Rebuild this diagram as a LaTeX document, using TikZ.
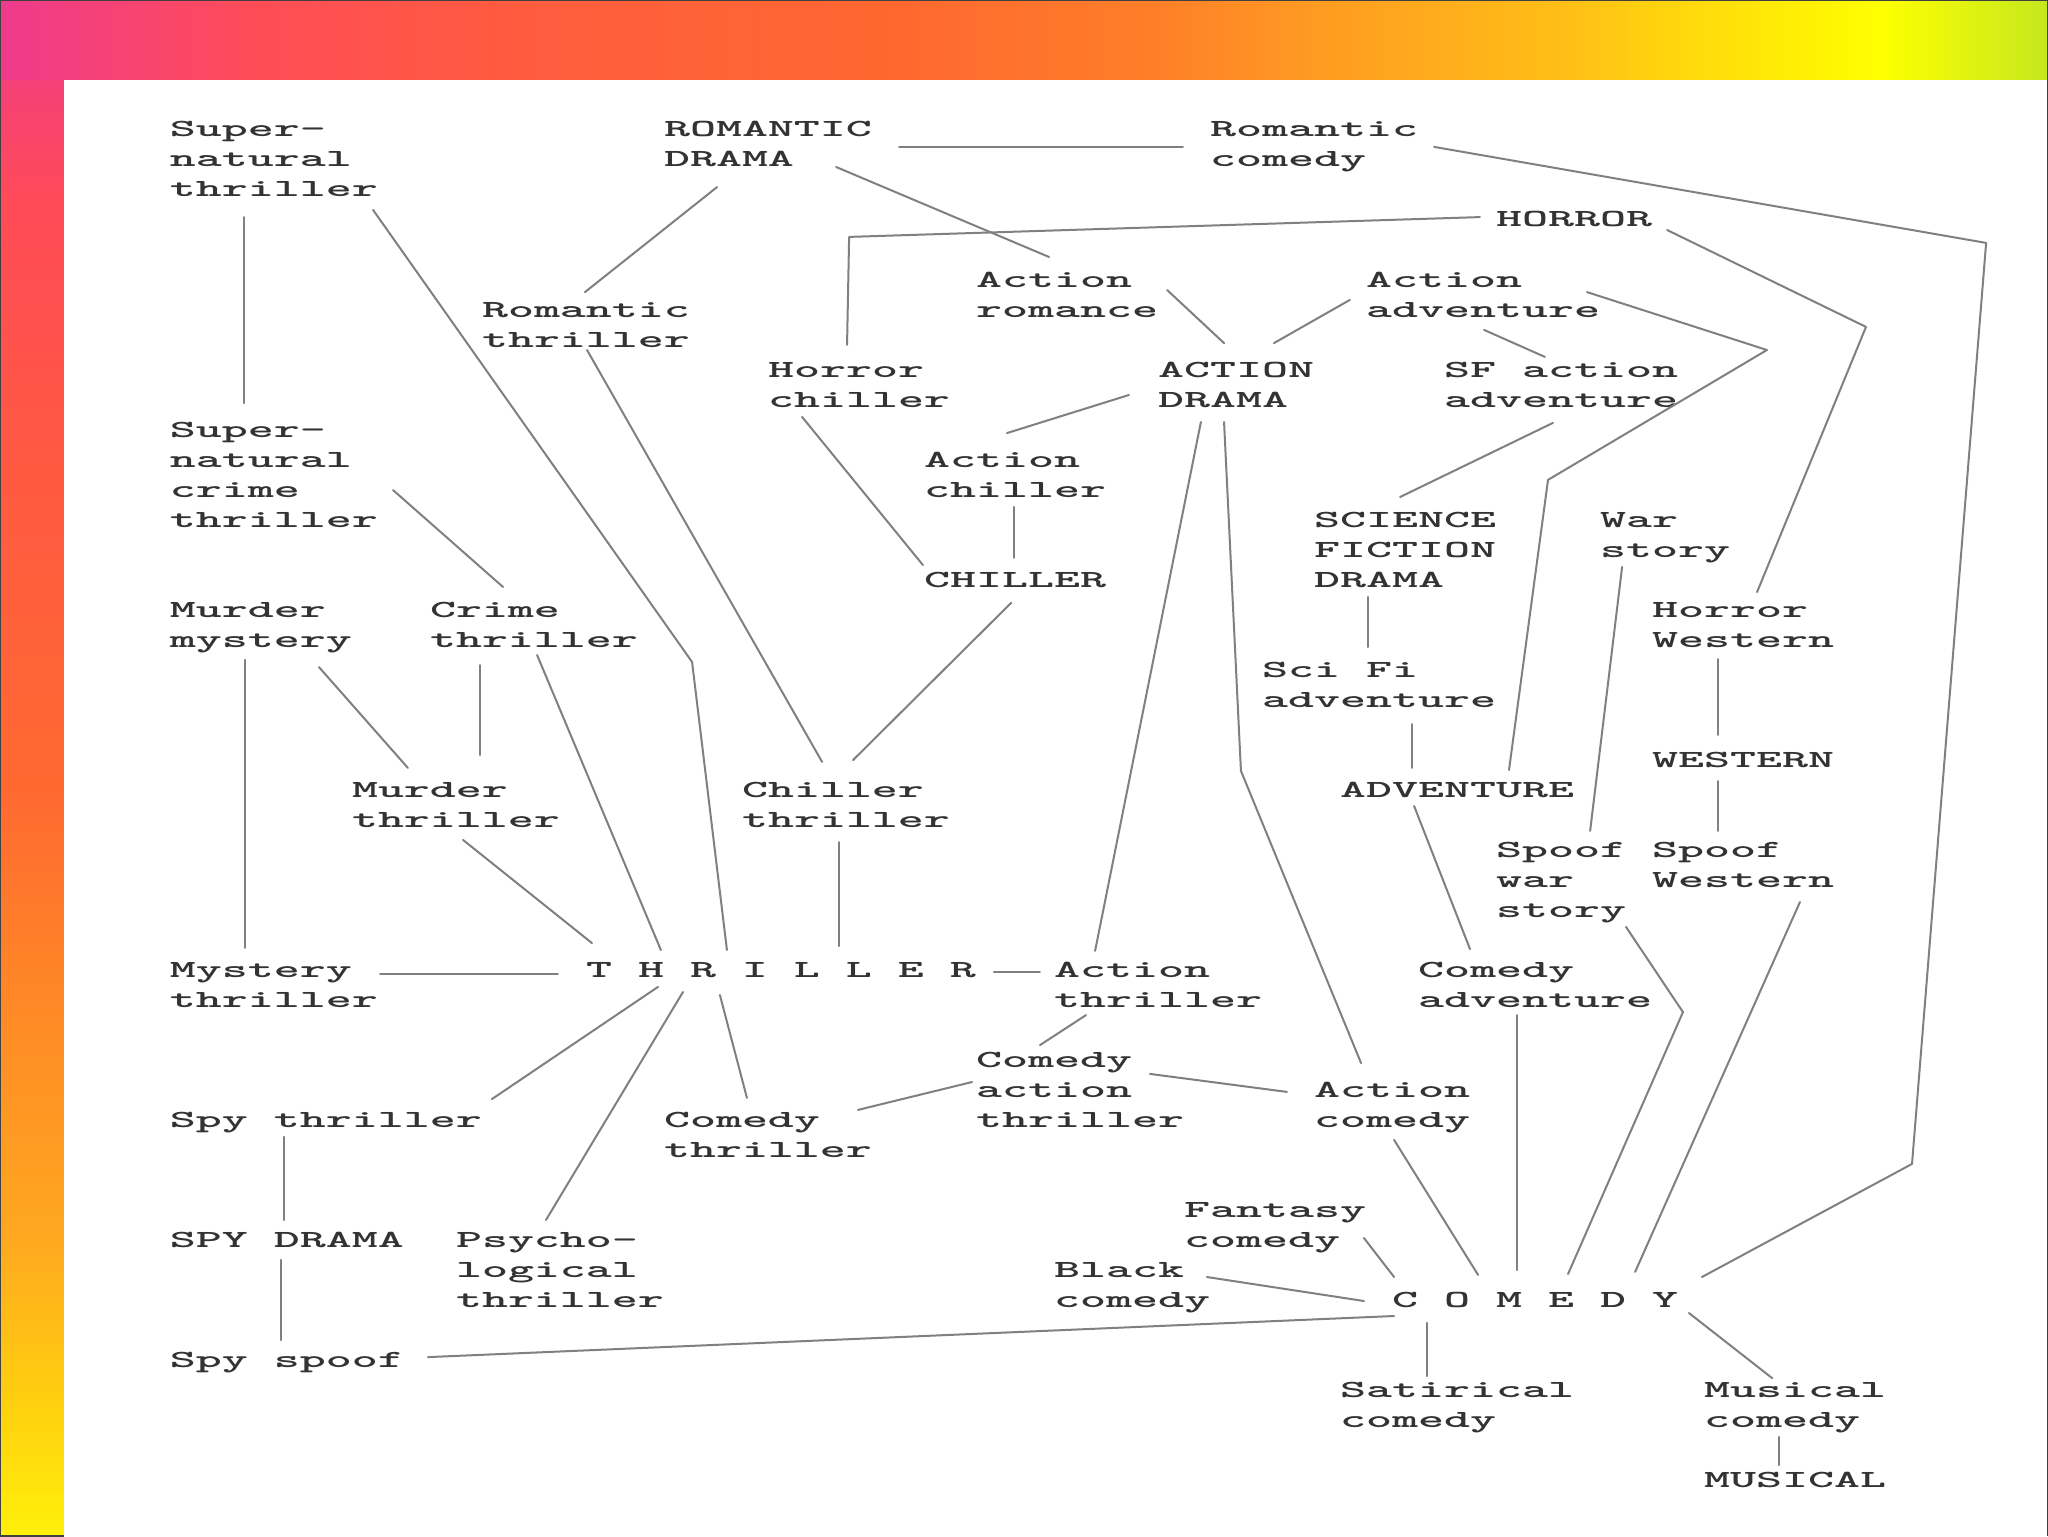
\documentclass[tikz,border=0pt]{standalone}
\usepackage{graphicx}
\usetikzlibrary{calc}

\definecolor{top0}{RGB}{238,58,140}
\definecolor{top1}{RGB}{255,76,88}
\definecolor{top2}{RGB}{255,92,62}
\definecolor{top3}{RGB}{255,104,48}
\definecolor{top4}{RGB}{255,126,40}
\definecolor{top5}{RGB}{255,154,34}
\definecolor{top6}{RGB}{255,192,22}
\definecolor{top7}{RGB}{255,232,6}
\definecolor{top8}{RGB}{255,255,0}
\definecolor{top9}{RGB}{196,232,30}
\definecolor{side0}{RGB}{238,58,140}
\definecolor{side1}{RGB}{255,74,88}
\definecolor{side2}{RGB}{255,88,66}
\definecolor{side3}{RGB}{255,106,48}
\definecolor{side4}{RGB}{255,136,38}
\definecolor{side5}{RGB}{255,168,32}
\definecolor{side6}{RGB}{255,204,16}
\definecolor{side7}{RGB}{255,240,10}

\tikzset{
  genre/.style={inner sep=0pt, outer sep=0pt, anchor=base west, text=black!80,
    font=\fontsize{12.3}{15}\selectfont\ttfamily\bfseries},
  link/.style={draw=black!50, line width=1pt, line cap=round, line join=round}
}
% wide typewriter lines, one grid cell per character
\newcommand{\wide}[1]{\scalebox{2.013}[1]{\begin{tabular}[t]{@{}l@{}}#1\end{tabular}}}

\begin{document}
\begin{tikzpicture}[x=13pt, y=-15pt]
  % slide backdrop, in pixels
  \begin{scope}[x=0.5pt, y=-0.5pt, shift={(-170,-137)}]
    \useasboundingbox (0,0) rectangle (2048,1536);
    \foreach \ya/\yb/\colA/\colB in {0/200/side0/side1, 200/450/side1/side2,
        450/800/side2/side3, 800/1000/side3/side4, 1000/1236/side4/side5,
        1236/1386/side5/side6, 1386/1536/side6/side7}
      \shade[top color=\colA, bottom color=\colB] (0,\ya) rectangle (64,{\yb+2});
    \foreach \xa/\xb/\colA/\colB in {0/250/top0/top1, 250/520/top1/top2,
        520/900/top2/top3, 900/1150/top3/top4, 1150/1310/top4/top5,
        1310/1570/top5/top6, 1570/1760/top6/top7, 1760/1880/top7/top8,
        1880/2048/top8/top9}
      \shade[left color=\colA, right color=\colB] (\xa,0) rectangle ({\xb+2},80);
    \fill[white] (64,80) rectangle (2048,1536);
    \draw[black!75, line width=1pt] (64,1536) -- (0,1536) -- (0,0) -- (2048,0) -- (2048,1536);
  \end{scope}

  % genres, placed on the character grid (column, row)
  \node[genre] (snt) at (0,0) {\wide{Super-\\natural\\thriller}};
  \node[genre] (romdr) at (19,0) {\wide{ROMANTIC\\DRAMA}};
  \node[genre] (romcom) at (40,0) {\wide{Romantic\\comedy}};
  \node[genre] (horror) at (51,3) {\wide{HORROR}};
  \node[genre] (actrom) at (31,5) {\wide{Action\\romance}};
  \node[genre] (actadv) at (46,5) {\wide{Action\\adventure}};
  \node[genre] (romthr) at (12,6) {\wide{Romantic\\thriller}};
  \node[genre] (horchil) at (23,8) {\wide{Horror\\chiller}};
  \node[genre] (actdr) at (38,8) {\wide{ACTION\\DRAMA}};
  \node[genre] (sfadv) at (49,8) {\wide{SF action\\adventure}};
  \node[genre] (sct) at (0,10) {\wide{Super-\\natural\\crime\\thriller}};
  \node[genre] (actchil) at (29,11) {\wide{Action\\chiller}};
  \node[genre] (scifi) at (44,13) {\wide{SCIENCE\\FICTION\\DRAMA}};
  \node[genre] (war) at (55,13) {\wide{War\\story}};
  \node[genre] (chiller) at (29,15) {\wide{CHILLER}};
  \node[genre] (murmys) at (0,16) {\wide{Murder\\mystery}};
  \node[genre] (crime) at (10,16) {\wide{Crime\\thriller}};
  \node[genre] (horwest) at (57,16) {\wide{Horror\\Western}};
  \node[genre] (sfiadv) at (42,18) {\wide{Sci Fi\\adventure}};
  \node[genre] (western) at (57,21) {\wide{WESTERN}};
  \node[genre] (adventure) at (45,22) {\wide{ADVENTURE}};
  \node[genre] (murthr) at (7,22) {\wide{Murder\\thriller}};
  \node[genre] (chilthr) at (22,22) {\wide{Chiller\\thriller}};
  \node[genre] (spoofwar) at (51,24) {\wide{Spoof\\war\\story}};
  \node[genre] (spoofwest) at (57,24) {\wide{Spoof\\Western}};
  \node[genre] (mysthr) at (0,28) {\wide{Mystery\\thriller}};
  \node[genre] (thriller) at (16,28) {\wide{T H R I L L E R}};
  \node[genre] (actthr) at (34,28) {\wide{Action\\thriller}};
  \node[genre] (comadv) at (48,28) {\wide{Comedy\\adventure}};
  \node[genre] (comact) at (31,31) {\wide{Comedy\\action\\thriller}};
  \node[genre] (actcom) at (44,32) {\wide{Action\\comedy}};
  \node[genre] (spythr) at (0,33) {\wide{Spy thriller}};
  \node[genre] (comthr) at (19,33) {\wide{Comedy\\thriller}};
  \node[genre] (fantasy) at (39,36) {\wide{Fantasy\\comedy}};
  \node[genre] (spydr) at (0,37) {\wide{SPY DRAMA}};
  \node[genre] (psycho) at (11,37) {\wide{Psycho-\\logical\\thriller}};
  \node[genre] (black) at (34,38) {\wide{Black\\comedy}};
  \node[genre] (comedy) at (47,39) {\wide{C O M E D Y}};
  \node[genre] (spyspoof) at (0,41) {\wide{Spy spoof}};
  \node[genre] (satire) at (45,42) {\wide{Satirical\\comedy}};
  \node[genre] (muscom) at (59,42) {\wide{Musical\\comedy}};
  \node[genre] (musical) at (59,45) {\wide{MUSICAL}};

  % knees of the bent connectors
  \coordinate (kneeSnt) at (20.08,17.5);
  \coordinate (kneeRcA) at (69.85,3.53);
  \coordinate (kneeRcB) at (67.0,34.23);
  \coordinate (kneeHorA) at (26.12,3.33);
  \coordinate (kneeHorB) at (65.23,6.33);
  \coordinate (kneeAdvA) at (61.42,7.1);
  \coordinate (kneeAdvB) at (53.0,11.43);
  \coordinate (kneeAct) at (41.19,21.13);
  \coordinate (kneeSpoof) at (58.19,29.17);

  % thriller side
  \draw[link] ($(snt.base west)+(2.85,2.67)$) -- ($(sct.base west)+(2.85,-1.13)$);
  \draw[link] ($(snt.base west)+(7.81,2.43)$) -- (kneeSnt) -- ($(thriller.base west)+(5.42,-0.9)$);
  \draw[link] ($(romdr.base west)+(2.04,1.67)$) -- ($(romthr.base west)+(3.96,-0.83)$);
  \draw[link] ($(romthr.base west)+(4.04,1.1)$) -- ($(chilthr.base west)+(3.08,-1.17)$);
  \draw[link] ($(sct.base west)+(8.58,1.77)$) -- ($(crime.base west)+(2.81,-1.0)$);
  \draw[link] ($(murmys.base west)+(2.88,1.43)$) -- ($(mysthr.base west)+(2.88,-0.97)$);
  \draw[link] ($(murmys.base west)+(5.73,1.67)$) -- ($(murthr.base west)+(2.15,-0.97)$);
  \draw[link] ($(crime.base west)+(1.92,1.6)$) -- ($(murthr.base west)+(4.92,-1.4)$);
  \draw[link] ($(crime.base west)+(4.12,1.27)$) -- ($(thriller.base west)+(2.88,-0.9)$);
  \draw[link] ($(murthr.base west)+(4.27,1.43)$) -- ($(thriller.base west)+(0.23,-1.13)$);
  \draw[link] ($(mysthr.base west)+(8.08,-0.1)$) -- ($(thriller.base west)+(-1.08,-0.1)$);
  \draw[link] ($(chilthr.base west)+(3.73,1.5)$) -- ($(thriller.base west)+(9.73,-1.03)$);
  \draw[link] ($(thriller.base west)+(15.69,-0.17)$) -- ($(actthr.base west)+(-0.54,-0.17)$);
  \draw[link] ($(thriller.base west)+(2.77,0.33)$) -- ($(spythr.base west)+(12.38,-0.93)$);
  \draw[link] ($(thriller.base west)+(3.73,0.5)$) -- ($(psycho.base west)+(3.46,-0.9)$);
  \draw[link] ($(thriller.base west)+(5.15,0.6)$) -- ($(comthr.base west)+(3.19,-0.97)$);
  \draw[link] ($(spythr.base west)+(4.38,0.33)$) -- ($(spydr.base west)+(4.38,-0.9)$);
  \draw[link] ($(spydr.base west)+(4.27,0.43)$) -- ($(spyspoof.base west)+(4.27,-0.9)$);

  % romance, horror, action
  \draw[link] ($(romdr.base west)+(9.04,0.32)$) -- ($(romcom.base west)+(-1.04,0.32)$);
  \draw[link] ($(romdr.base west)+(6.62,1.0)$) -- ($(actrom.base west)+(2.81,-1.0)$);
  \draw[link] ($(romcom.base west)+(8.62,0.33)$) -- (kneeRcA) -- (kneeRcB) -- ($(comedy.base west)+(11.92,-1.0)$);
  \draw[link] ($(horror.base west)+(-0.62,-0.33)$) -- (kneeHorA) -- ($(horchil.base west)+(3.04,-1.07)$);
  \draw[link] ($(horror.base west)+(6.58,0.1)$) -- (kneeHorB) -- ($(horwest.base west)+(4.04,-0.83)$);
  \draw[link] ($(horchil.base west)+(1.31,1.33)$) -- ($(chiller.base west)+(-0.04,-0.73)$);
  \draw[link] ($(actrom.base west)+(7.35,0.1)$) -- ($(actdr.base west)+(2.54,-1.13)$);
  \draw[link] ($(actadv.base west)+(-0.62,0.43)$) -- ($(actdr.base west)+(4.46,-1.13)$);
  \draw[link] ($(actadv.base west)+(4.54,1.43)$) -- ($(sfadv.base west)+(3.88,-0.67)$);
  \draw[link] ($(actadv.base west)+(8.5,0.17)$) -- (kneeAdvA) -- (kneeAdvB) -- ($(adventure.base west)+(6.5,-0.9)$);
  \draw[link] ($(actdr.base west)+(-1.12,0.6)$) -- ($(actchil.base west)+(3.19,-1.13)$);
  \draw[link] ($(actchil.base west)+(3.46,1.33)$) -- ($(chiller.base west)+(3.46,-0.97)$);
  \draw[link] ($(chiller.base west)+(3.35,0.53)$) -- ($(chilthr.base west)+(4.27,-1.23)$);
  \draw[link] ($(actdr.base west)+(1.65,1.5)$) -- ($(actthr.base west)+(1.58,-0.87)$);
  \draw[link] ($(actdr.base west)+(2.54,1.5)$) -- (kneeAct) -- ($(actcom.base west)+(1.81,-1.13)$);

  % science fiction, adventure, war, western
  \draw[link] ($(sfadv.base west)+(4.19,1.53)$) -- ($(scifi.base west)+(3.31,-1.0)$);
  \draw[link] ($(scifi.base west)+(2.08,2.33)$) -- ($(sfiadv.base west)+(4.08,-1.0)$);
  \draw[link] ($(sfiadv.base west)+(5.75,1.57)$) -- ($(adventure.base west)+(2.75,-0.97)$);
  \draw[link] ($(adventure.base west)+(2.85,0.3)$) -- ($(comadv.base west)+(2.0,-0.93)$);
  \draw[link] ($(war.base west)+(0.85,1.33)$) -- ($(spoofwar.base west)+(3.62,-0.87)$);
  \draw[link] ($(horwest.base west)+(2.54,1.4)$) -- ($(western.base west)+(2.54,-1.07)$);
  \draw[link] ($(western.base west)+(2.54,0.47)$) -- ($(spoofwest.base west)+(2.54,-0.87)$);

  % comedy side
  \draw[link] ($(spoofwar.base west)+(5.0,2.33)$) -- (kneeSpoof) -- ($(comedy.base west)+(6.77,-1.1)$);
  \draw[link] ($(spoofwest.base west)+(5.69,1.5)$) -- ($(comedy.base west)+(9.35,-1.17)$);
  \draw[link] ($(comadv.base west)+(3.81,1.27)$) -- ($(comedy.base west)+(4.81,-1.23)$);
  \draw[link] ($(actcom.base west)+(3.08,1.43)$) -- ($(comedy.base west)+(3.31,-1.07)$);
  \draw[link] ($(comact.base west)+(6.69,0.23)$) -- ($(actcom.base west)+(-1.04,-0.17)$);
  \draw[link] ($(actthr.base west)+(1.23,1.27)$) -- ($(comact.base west)+(2.46,-0.73)$);
  \draw[link] ($(comact.base west)+(-0.15,0.5)$) -- ($(comthr.base west)+(7.46,-0.57)$);
  \draw[link] ($(fantasy.base west)+(6.92,0.7)$) -- ($(comedy.base west)+(0.08,-1.0)$);
  \draw[link] ($(black.base west)+(5.88,0.0)$) -- ($(comedy.base west)+(-1.08,-0.2)$);
  \draw[link] ($(spyspoof.base west)+(9.92,-0.33)$) -- ($(comedy.base west)+(0.08,0.3)$);
  \draw[link] ($(comedy.base west)+(1.33,0.53)$) -- ($(satire.base west)+(3.33,-0.7)$);
  \draw[link] ($(comedy.base west)+(11.42,0.2)$) -- ($(muscom.base west)+(2.62,-0.63)$);
  \draw[link] ($(muscom.base west)+(2.9,1.33)$) -- ($(musical.base west)+(2.9,-0.73)$);
\end{tikzpicture}
\end{document}
